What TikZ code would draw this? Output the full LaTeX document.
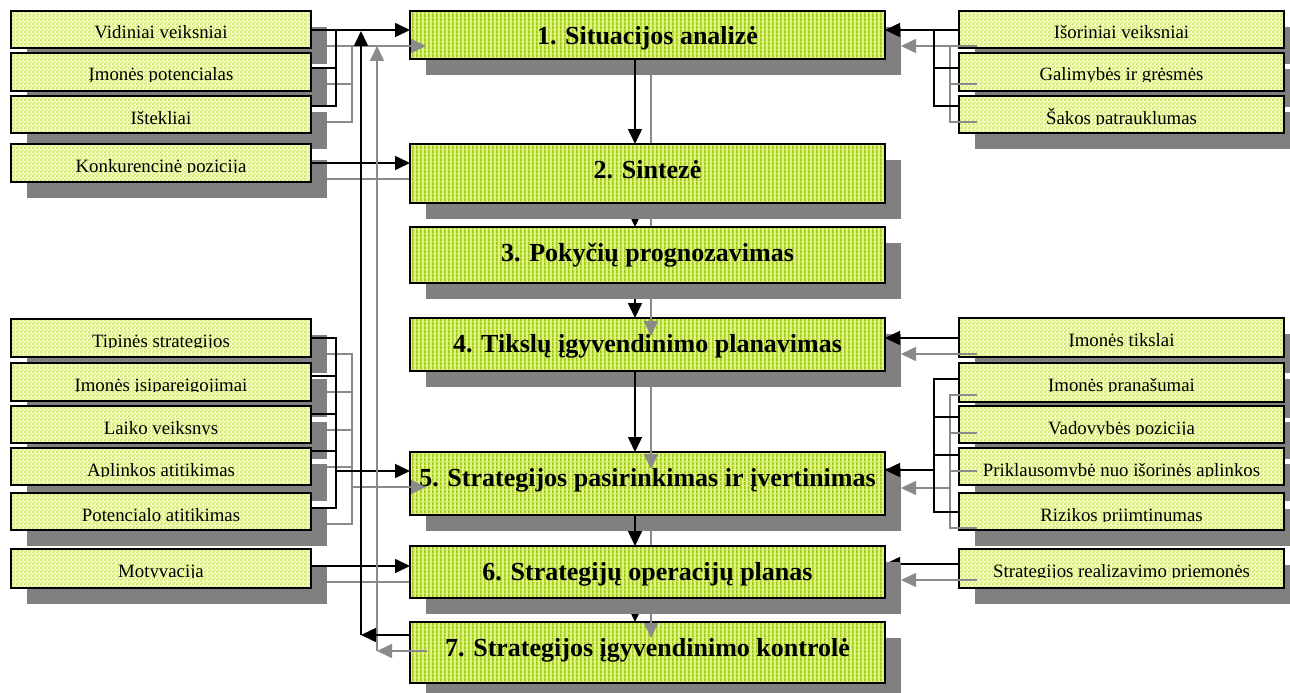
\documentclass[tikz,border=0pt]{standalone}
\usepackage{fontspec}
\setmainfont{Liberation Serif}
\usetikzlibrary{arrows.meta,patterns}

\definecolor{cDark}{RGB}{158,200,22}
\definecolor{cLight}{RGB}{222,244,128}
\definecolor{sDark}{RGB}{204,230,100}
\definecolor{sLight}{RGB}{246,251,200}
\definecolor{shadowgray}{RGB}{128,128,128}
\definecolor{lgray}{RGB}{138,138,138}

% fill textures: vertical stripes for the stages, a fine checker for the factors
\pgfdeclarepatternformonly{vstripes}{\pgfpointorigin}{\pgfpoint{4pt}{4pt}}{\pgfpoint{4pt}{4pt}}%
  {\pgfpathrectangle{\pgfpointorigin}{\pgfpoint{2pt}{4pt}}\pgfusepath{fill}}
\pgfdeclarepatternformonly{checker}{\pgfpointorigin}{\pgfpoint{4pt}{4pt}}{\pgfpoint{4pt}{4pt}}%
  {\pgfpathrectangle{\pgfpointorigin}{\pgfpoint{2pt}{2pt}}%
   \pgfpathrectangle{\pgfpoint{2pt}{2pt}}{\pgfpoint{2pt}{2pt}}\pgfusepath{fill}}

\newcommand\SideFont{\fontsize{18.8}{20}\selectfont}
\newcommand\CtrFont{\bfseries\fontsize{26}{27}\selectfont}

\pgfdeclarelayer{bg}
\pgfdeclarelayer{sideshadow}
\pgfdeclarelayer{under}
\pgfdeclarelayer{cshadow}
\pgfsetlayers{bg,sideshadow,under,cshadow,main}

\tikzset{
  side/.style={draw=black, line width=1.6pt, outer sep=0pt, inner sep=0pt,
    anchor=north, preaction={fill=sLight}, pattern=checker, pattern color=sDark,
    path picture={
      \clip ([yshift=-28.4pt]path picture bounding box.north west)
        rectangle (path picture bounding box.north east);
      \node[anchor=base, inner sep=0pt, font=\SideFont, text=black]
        at ([yshift=-28pt]path picture bounding box.north) {#1};
    }},
  lside/.style={side={#1}, minimum width=300pt},
  rside/.style={side={#1}, minimum width=325pt},
  cbox/.style={draw=black, line width=1.6pt, outer sep=0pt, inner sep=0pt,
    anchor=north, minimum width=475pt, text height=34pt,
    preaction={fill=cLight}, pattern=vstripes, pattern color=cDark, font=\CtrFont},
  blk/.style={draw=black, line width=1.6pt},
  gry/.style={draw=lgray, line width=1.6pt},
  arr/.style={-{Triangle[length=15pt,width=14pt]}},
  dropshade/.style={fill=shadowgray},
}

\begin{document}
\begin{tikzpicture}[x=1pt,y=-1pt]
\useasboundingbox (0,0) rectangle (1290,693);
\begin{pgfonlayer}{bg}
  \fill[white] (0,0) rectangle (1290,693);
\end{pgfonlayer}

% ---------- factor boxes, left ----------
\node[lside={Vidiniai veiksniai},     minimum height=37pt] (vid) at (161,11) {};
\node[lside={Įmonės potencialas},     minimum height=38pt] (imp) at (161,53) {};
\node[lside={Ištekliai},              minimum height=37pt] (ist) at (161,96) {};
\node[lside={Konkurencinė pozicija},  minimum height=38pt] (kon) at (161,144) {};
\node[lside={Tipinės strategijos},    minimum height=38pt] (tip) at (161,319) {};
\node[lside={Įmonės įsipareigojimai}, minimum height=38pt] (isi) at (161,363) {};
\node[lside={Laiko veiksnys},         minimum height=37pt] (lai) at (161,406) {};
\node[lside={Aplinkos atitikimas},    minimum height=37pt] (apl) at (161,448) {};
\node[lside={Potencialo atitikimas},  minimum height=37pt] (pot) at (161,493) {};
\node[lside={Motyvacija},             minimum height=39pt] (mot) at (161,549) {};

% ---------- factor boxes, right ----------
\node[rside={Išoriniai veiksniai},    minimum height=37pt] (iso) at (1121.5,11) {};
\node[rside={Galimybės ir grėsmės},   minimum height=38pt] (gal) at (1121.5,53) {};
\node[rside={Šakos patrauklumas},     minimum height=37pt] (sak) at (1121.5,96) {};
\node[rside={Įmonės tikslai},         minimum height=39pt] (tik) at (1121.5,318) {};
\node[rside={Įmonės pranašumai},      minimum height=39pt] (pra) at (1121.5,363) {};
\node[rside={Vadovybės pozicija},     minimum height=37pt] (vad) at (1121.5,406) {};
\node[rside={Priklausomybė nuo išorinės aplinkos}, minimum height=37pt] (pri) at (1121.5,448) {};
\node[rside={Rizikos priimtinumas},   minimum height=37pt] (riz) at (1121.5,493) {};
\node[rside={Strategijos realizavimo priemonės}, minimum height=39pt] (rea) at (1121.5,549) {};

\begin{pgfonlayer}{sideshadow}
  \foreach \n in {vid,imp,ist,kon,tip,isi,lai,apl,pot,mot,iso,gal,sak,tik,pra,vad,pri,riz,rea}
    \fill[dropshade] ([shift={(16pt,-16pt)}]\n.south west) rectangle ([shift={(16pt,-16pt)}]\n.north east);
\end{pgfonlayer}

% ---------- planning stages ----------
\node[cbox, text depth=14pt] (b1) at (647.5,11)  {1. Situacijos analizė};
\node[cbox, text depth=25pt] (b2) at (647.5,144) {2. Sintezė};
\node[cbox, text depth=22pt] (b3) at (647.5,227) {3. Pokyčių prognozavimas};
\node[cbox, text depth=19pt] (b4) at (647.5,318) {4. Tikslų įgyvendinimo planavimas};
\node[cbox, text depth=29pt] (b5) at (647.5,452) {5. Strategijos pasirinkimas ir įvertinimas};
\node[cbox, text depth=18pt] (b6) at (647.5,546) {6. Strategijų operacijų planas};
\node[cbox, text depth=27pt] (b7) at (647.5,622) {7. Strategijos įgyvendinimo kontrolė};

\begin{pgfonlayer}{cshadow}
  \foreach \n in {b1,b2,b3,b4,b5,b6,b7}
    \fill[dropshade] ([shift={(16pt,-16pt)}]\n.south west) rectangle ([shift={(16pt,-16pt)}]\n.north east);
\end{pgfonlayer}

% ---------- junction points ----------
\coordinate (LB1) at (336,30);  \coordinate (LB2) at (336,68);  \coordinate (LB3) at (336,106);
\coordinate (KB)  at (336,163);
\coordinate (QB1) at (336,338); \coordinate (QB2) at (336,376); \coordinate (QB3) at (336,414);
\coordinate (QB4) at (336,451); \coordinate (QB5) at (336,508); \coordinate (QA)  at (336,471);
\coordinate (MB)  at (336,566);
\coordinate (LP)  at (361,635); \coordinate (LPt) at (361,31);
\coordinate (RB1) at (934,30);  \coordinate (RB2) at (934,68);  \coordinate (RB3) at (934,106);
\coordinate (TB)  at (934,338);
\coordinate (SB1) at (934,379); \coordinate (SB2) at (934,417); \coordinate (SB3) at (934,455);
\coordinate (SB4) at (934,512); \coordinate (SA)  at (934,470);
\coordinate (RA)  at (934,564);
\coordinate (CX)  at (635,0);

% ---------- connectors lying below the stage shadows ----------
\begin{pgfonlayer}{under}
  \draw[blk,arr] (b2.south -| CX) -- (b3.north -| CX);
  \draw[blk,arr] (b3.south -| CX) -- (b4.north -| CX);
  \draw[blk,arr] (b6.south -| CX) -- (b7.north -| CX);
  \draw[blk,arr] (rea.west |- RA) -- (b6.east |- RA);
  \draw[gry] (651,75) -- (651,144);
  \draw[gry] (651,219) -- (651,227);
  \draw[gry] (651,531) -- (651,546);
  \draw[gry] (327,179) -- (410,179);
  \draw[gry] (327,582) -- (410,582);
\end{pgfonlayer}

% ---------- stage to stage ----------
\draw[blk,arr] (b1.south -| CX) -- (b2.north -| CX);
\draw[blk,arr] (b4.south -| CX) -- (b5.north -| CX);
\draw[blk,arr] (b5.south -| CX) -- (b6.north -| CX);
\draw[gry,arr] (651,299) -- (651,336);
\draw[gry,arr] (651,387) -- (651,469);
\draw[gry,arr] (651,614) -- (651,638);

% ---------- left inputs ----------
\draw[gry,arr] (327,46) -- (426,46);
\draw[gry] (327,84) -- (352,84);
\draw[gry] (327,122) -- (352,122) -- (352,46);
\draw[blk,arr] (vid.east |- LB1) -- (b1.west |- LB1);
\draw[blk] (imp.east |- LB2) -- (LB2);
\draw[blk] (ist.east |- LB3) -- (LB3) -- (LB1);

\draw[blk,arr] (kon.east |- KB) -- (b2.west |- KB);

\draw[gry] (327,354) -- (352,354) -- (352,524) -- (327,524);
\draw[gry] (327,392) -- (352,392);
\draw[gry] (327,430) -- (352,430);
\draw[gry] (327,467) -- (352,467);
\draw[gry,arr] (352,487) -- (426,487);
\draw[blk] (tip.east |- QB1) -- (QB1) -- (QB5) -- (pot.east |- QB5);
\draw[blk] (isi.east |- QB2) -- (QB2);
\draw[blk] (lai.east |- QB3) -- (QB3);
\draw[blk] (apl.east |- QB4) -- (QB4);
\draw[blk,arr] (QA) -- (b5.west |- QA);

\draw[blk,arr] (mot.east |- MB) -- (b6.west |- MB);

% ---------- feedback from control ----------
\draw[gry,arr] (427,651) -- (377,651);
\draw[gry,arr] (377,651) -- (377,46);
\draw[blk,arr] (b7.west |- LP) -- (LP);
\draw[blk,arr] (LP) -- (LPt);

% ---------- right inputs ----------
\draw[gry,arr] (977,46) -- (901,46);
\draw[gry] (977,84) -- (950,84);
\draw[gry] (977,122) -- (950,122) -- (950,46);
\draw[blk,arr] (iso.west |- RB1) -- (b1.east |- RB1);
\draw[blk] (gal.west |- RB2) -- (RB2);
\draw[blk] (sak.west |- RB3) -- (RB3) -- (RB1);

\draw[gry,arr] (977,354) -- (901,354);
\draw[blk,arr] (tik.west |- TB) -- (b4.east |- TB);

\draw[gry] (977,395) -- (950,395) -- (950,528) -- (977,528);
\draw[gry] (977,433) -- (950,433);
\draw[gry] (977,471) -- (950,471);
\draw[gry,arr] (950,488) -- (901,488);
\draw[blk] (pra.west |- SB1) -- (SB1) -- (SB4) -- (riz.west |- SB4);
\draw[blk] (vad.west |- SB2) -- (SB2);
\draw[blk] (pri.west |- SB3) -- (SB3);
\draw[blk,arr] (SA) -- (b5.east |- SA);

\draw[gry,arr] (977,580) -- (901,580);
\end{tikzpicture}
\end{document}
